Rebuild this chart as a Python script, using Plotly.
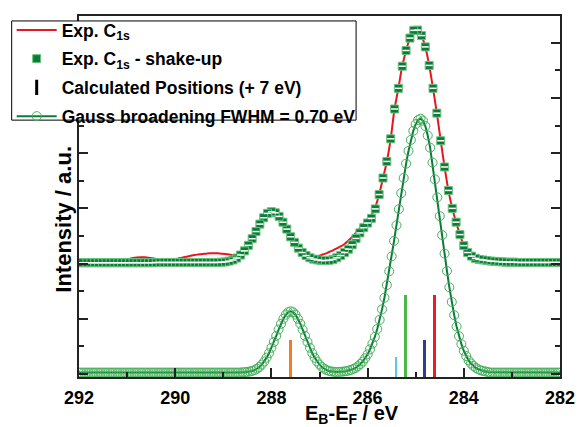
import numpy as np
import plotly.graph_objects as go

# ---------------- data ----------------
# energy grids (instrument sampling)
E_LO_START, E_LO_STEP, E_LO_N = 282.0, 0.05, 201
E_SQ_START, E_SQ_STEP, E_SQ_N = 282.0, 0.08, 126
X_LO = np.round(E_LO_START + E_LO_STEP * np.arange(E_LO_N), 2)
X_SQ = np.round(E_SQ_START + E_SQ_STEP * np.arange(E_SQ_N), 2)

# Gauss broadening FWHM = 0.70 eV (lower curve)
GAUSS = [
    0.05, 0.05, 0.05, 0.05, 0.05, 0.05, 0.05, 0.05, 0.05, 0.05,
    0.05, 0.05, 0.05, 0.05, 0.05, 0.05, 0.05, 0.05, 0.05, 0.05,
    0.05, 0.05, 0.05, 0.05, 0.05, 0.05, 0.05, 0.05, 0.05, 0.05,
    0.07, 0.09, 0.11, 0.13, 0.17, 0.22, 0.29, 0.38, 0.49, 0.65,
    0.84, 1.08, 1.37, 1.72, 2.13, 2.61, 3.14, 3.73, 4.36, 5.03,
    5.72, 6.40, 7.05, 7.66, 8.20, 8.64, 8.98, 9.18, 9.25,
    9.20, 9.05, 8.81, 8.48, 8.08, 7.62, 7.10, 6.55, 5.97, 5.39,
    4.82, 4.26, 3.72, 3.22, 2.76, 2.34, 1.96, 1.63, 1.34, 1.10,
    0.89, 0.71, 0.57, 0.45, 0.36, 0.28, 0.22, 0.18, 0.145, 0.12, 0.10,
    0.09, 0.08, 0.075, 0.07, 0.08, 0.09, 0.11, 0.14, 0.19, 0.25,
    0.34, 0.45, 0.59, 0.75, 0.95, 1.16, 1.38, 1.61, 1.82, 2.00,
    2.15, 2.24, 2.27, 2.24, 2.15, 2.00, 1.82, 1.61, 1.38, 1.16,
    0.95, 0.75, 0.59, 0.45, 0.34, 0.25, 0.19, 0.14, 0.11, 0.09,
    0.075, 0.065, 0.06,
    0.05, 0.05, 0.05, 0.05, 0.05, 0.05, 0.05, 0.05, 0.05, 0.05,
    0.05, 0.05, 0.05, 0.05, 0.05, 0.05, 0.05, 0.05, 0.05, 0.05,
    0.05, 0.05, 0.05, 0.05, 0.05, 0.05, 0.05, 0.05, 0.05, 0.05,
    0.05, 0.05, 0.05, 0.05, 0.05, 0.05, 0.05, 0.05, 0.05, 0.05,
    0.05, 0.05, 0.05, 0.05, 0.05, 0.05, 0.05, 0.05, 0.05, 0.05,
    0.05, 0.05, 0.05, 0.05, 0.05, 0.05, 0.05, 0.05, 0.05, 0.05,
    0.05, 0.05, 0.05, 0.05, 0.05, 0.05, 0.05, 0.05,
]

# Exp. C1s - shake-up (squares)
SHAKE = [
    4.04, 4.04, 4.04, 4.04, 4.04, 4.04, 4.04, 4.04, 4.04, 4.04, 4.04, 4.04,
    4.05, 4.05, 4.05, 4.06, 4.07, 4.08, 4.09, 4.11, 4.13, 4.15, 4.19, 4.27, 4.40,
    4.65, 5.05, 5.50, 6.00, 6.65, 7.50, 8.45, 9.45, 10.35, 11.18, 11.85, 12.26, 12.46,
    12.45, 12.17, 11.72, 11.15, 10.35, 9.60, 8.52, 7.70, 7.10, 6.50, 5.98, 5.64, 5.47,
    5.30, 5.11, 4.91, 4.68, 4.52, 4.40, 4.29, 4.21, 4.15, 4.12, 4.11, 4.11, 4.13,
    4.16, 4.21, 4.29, 4.40, 4.56, 4.77, 4.97, 5.25, 5.50, 5.71, 5.84, 5.88, 5.82,
    5.66, 5.43, 5.16, 4.90, 4.66, 4.46, 4.31, 4.20, 4.13, 4.09, 4.06, 4.05,
    4.04, 4.04, 4.04, 4.04, 4.04, 4.04, 4.04, 4.04, 4.04, 4.04, 4.04, 4.04, 4.04, 4.04, 4.04, 4.04, 4.04,
    4.03, 4.03, 4.03, 4.03, 4.03, 4.03, 4.03, 4.03, 4.03, 4.03,
    4.03, 4.03, 4.03, 4.03, 4.03, 4.03, 4.03, 4.03, 4.03, 4.03,
]

# Exp. C1s (red line)
C1S = [
    4.04, 4.04, 4.04, 4.04, 4.04, 4.04, 4.04, 4.04, 4.04, 4.04, 4.04, 4.04,
    4.05, 4.05, 4.05, 4.06, 4.07, 4.08, 4.09, 4.11, 4.13, 4.15, 4.19, 4.27, 4.40,
    4.65, 5.05, 5.50, 6.00, 6.65, 7.50, 8.45, 9.45, 10.35, 11.18, 11.85, 12.26, 12.46,
    12.45, 12.17, 11.72, 11.15, 10.35, 9.60, 8.52, 7.70, 7.10, 6.50,
    6.05, 5.76, 5.58, 5.42, 5.28, 5.12, 4.96, 4.83, 4.71, 4.62, 4.55, 4.48, 4.42,
    4.36, 4.31, 4.26, 4.23, 4.25,
    4.29, 4.40, 4.56, 4.77, 4.97, 5.25, 5.50, 5.71, 5.84, 5.88, 5.82, 5.66, 5.43,
    5.16, 4.90, 4.66, 4.46,
    4.32, 4.30, 4.31, 4.33, 4.35, 4.36, 4.37, 4.37, 4.37, 4.36, 4.35, 4.33, 4.31,
    4.28, 4.25, 4.22, 4.19, 4.16, 4.15, 4.14, 4.14, 4.15, 4.17, 4.19, 4.21, 4.23,
    4.23, 4.22, 4.20, 4.17, 4.14, 4.11, 4.09,
    4.08, 4.08, 4.08, 4.08, 4.08, 4.08, 4.08, 4.08, 4.08, 4.08,
]

# Calculated positions (+ 7 eV)
CALC_POS = [287.61, 285.41, 285.21, 284.81, 284.61]
CALC_HEIGHT = [1.22, 0.61, 2.87, 1.22, 2.87]
CALC_COLORS = ["#f07f23", "#5cc6ea", "#4db848", "#2e3d92", "#ed1c24"]

X_TICKS = [292, 290, 288, 286, 284, 282]

assert len(GAUSS) == E_LO_N and len(SHAKE) == E_SQ_N and len(C1S) == E_SQ_N

# ---------------- figure ----------------
Y_MIN, Y_MAX = -0.11, 12.97
FONT = "Liberation Sans, Arial, sans-serif"
AX = "#222222"
DARK_GREEN = "#0b7a3b"

# plot-area geometry in pixels (for paper-coordinate placement of decorations)
PL, PR, PT, PB = 78, 571, 13, 377
PW, PH = PR - PL, PB - PT


def px_x(px):
    return (px - PL) / PW


def px_y(py):
    return (PB - py) / PH


fig = go.Figure()

fig.add_trace(go.Bar(
    x=CALC_POS, y=[h - Y_MIN for h in CALC_HEIGHT], base=Y_MIN, width=0.06,
    marker=dict(color=CALC_COLORS, line=dict(width=0)), showlegend=False,
))

fig.add_trace(go.Scatter(
    x=X_LO, y=GAUSS, mode="lines+markers", name="Gauss broadening FWHM = 0.70 eV",
    line=dict(color=DARK_GREEN, width=2),
    marker=dict(symbol="circle-open", size=9, color="#46b15a", line=dict(width=1)),
    legendrank=4, legendgroup="g4",
))

fig.add_trace(go.Scatter(
    x=X_SQ, y=C1S, mode="lines", name="Exp. C<sub>1s</sub>",
    line=dict(color="#e8161e", width=2, shape="spline"),
    legendrank=1, legendgroup="g1",
))

fig.add_trace(go.Scatter(
    x=X_SQ, y=SHAKE, mode="markers", name="Exp. C<sub>1s</sub> - shake-up",
    marker=dict(symbol="square", size=8, color=DARK_GREEN, line=dict(color="#6cc47c", width=1)),
    legendrank=2, legendgroup="g2",
))
# light stripe inside each square (texture of the original symbols)
fig.add_trace(go.Scatter(
    x=X_SQ, y=SHAKE, mode="markers", showlegend=False, hoverinfo="skip",
    marker=dict(symbol="line-ew", size=5, line=dict(color="white", width=1.5)),
    legendgroup="g2",
))

fig.add_trace(go.Scatter(
    x=[None], y=[None], mode="markers", name="Calculated Positions (+ 7 eV)",
    marker=dict(symbol="line-ns", size=11, color="black", line=dict(color="black", width=3)),
    legendrank=3, legendgroup="g3",
))

fig.update_layout(
    width=587, height=427,
    margin=dict(l=PL, r=587 - PR, t=PT, b=427 - PB),
    paper_bgcolor="white", plot_bgcolor="white",
    font=dict(family=FONT, color="black"),
    showlegend=True,
    legend=dict(
        x=px_x(9), y=px_y(9), xanchor="left", yanchor="top",
        bgcolor="rgba(0,0,0,0)", borderwidth=0,
        font=dict(family=FONT, size=17.5, color="black", weight="bold"),
        itemwidth=40, traceorder="grouped", tracegroupgap=3,
    ),
    xaxis=dict(
        range=[292, 282], showline=True, linecolor=AX, linewidth=2, mirror=True,
        ticks="inside", tickvals=X_TICKS, ticklen=9, tickwidth=2, tickcolor=AX,
        tickfont=dict(family=FONT, size=18, color="black", weight="bold"),
        ticklabelstandoff=3,
        minor=dict(dtick=1, ticks="inside", ticklen=5, tickwidth=2, tickcolor=AX),
        showgrid=False, zeroline=False,
    ),
    xaxis2=dict(
        overlaying="x", side="top", range=[292, 282], anchor="y",
        ticks="inside", tick0=282, dtick=1, ticklen=5, tickwidth=1.5, tickcolor=AX,
        showticklabels=False, showgrid=False, zeroline=False, showline=False,
    ),
    yaxis=dict(
        range=[Y_MIN, Y_MAX], showline=True, linecolor=AX, linewidth=2, mirror="ticks",
        ticks="inside", tick0=0, dtick=2, ticklen=9, tickwidth=2, tickcolor=AX,
        minor=dict(dtick=1, ticks="inside", ticklen=5, tickwidth=2, tickcolor=AX),
        showticklabels=False, showgrid=False, zeroline=False,
    ),
    shapes=[
        # legend frame
        dict(type="rect", xref="paper", yref="paper",
             x0=px_x(9), x1=px_x(362), y0=px_y(118), y1=px_y(18),
             fillcolor="white", line=dict(color="black", width=1), layer="above"),
    ],
    annotations=[
        dict(text="Intensity / a.u.", xref="paper", yref="paper",
             x=px_x(62), y=px_y(218), textangle=-90,
             xanchor="center", yanchor="middle", showarrow=False,
             font=dict(family=FONT, size=22, color="black", weight="bold")),
        dict(text="E<sub>B</sub>-E<sub>F</sub> / eV", xref="paper", yref="paper",
             x=px_x(358), y=px_y(400),
             xanchor="center", yanchor="top", showarrow=False,
             font=dict(family=FONT, size=20, color="black", weight="bold")),
    ],
    bargap=0,
)

fig.write_html("out.html")
